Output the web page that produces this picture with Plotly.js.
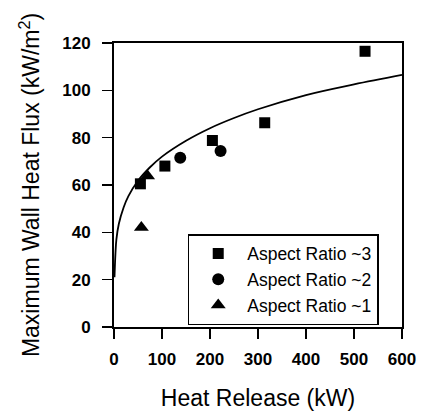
<!DOCTYPE html>
<html>
<head>
<meta charset="utf-8">
<script src="https://cdn.plot.ly/plotly-3.0.1.min.js"></script>
<style>html,body{margin:0;padding:0;background:#fff;}#chart{width:426px;height:415px;}</style>
</head>
<body>
<div id="chart"></div>
<script>
// Data
const ar3X = [55, 106, 205, 314, 523];
const ar3Y = [60.5, 68, 78.8, 86.3, 116.5];
const ar2X = [138, 222];
const ar2Y = [71.5, 74.4];
const ar1X = [70, 57];
const ar1Y = [63.8, 42];
// Fitted correlation curve
const curveX = [1, 3, 5, 10, 20, 30, 50, 75, 100, 150, 200, 250, 300, 400, 500, 600];
const curveY = [21, 31, 37, 43.5, 50.5, 55.3, 61.8, 67.5, 72, 78.7, 84, 88.3, 92, 98, 102.5, 106.5];
const legendNames = ['Aspect Ratio ~3', 'Aspect Ratio ~2', 'Aspect Ratio ~1'];
const xTicks = [0, 100, 200, 300, 400, 500, 600];
const yTicks = [0, 20, 40, 60, 80, 100, 120];

const FONT = 'Arial, "Liberation Sans", Helvetica, sans-serif';

const traces = [
  {x: curveX, y: curveY, mode: 'lines', line: {color: '#000', width: 1.8, shape: 'spline'}, showlegend: false, hoverinfo: 'skip'},
  {x: ar3X, y: ar3Y, mode: 'markers', name: legendNames[0], marker: {symbol: 'square', size: 11, color: '#000'}},
  {x: ar2X, y: ar2Y, mode: 'markers', name: legendNames[1], marker: {symbol: 'circle', size: 12, color: '#000'}},
  {x: ar1X, y: ar1Y, mode: 'markers', name: legendNames[2], marker: {symbol: 'triangle-up', size: 13, color: '#000'}}
];

const axisCommon = {
  showgrid: false, zeroline: false, showline: true, linecolor: '#000', linewidth: 2,
  mirror: true, ticks: 'outside', ticklen: 10, tickwidth: 1.5, tickcolor: '#000',
  tickfont: {family: FONT, size: 17, color: '#000', weight: 'bold'},
  automargin: false
};

const layout = {
  width: 426, height: 415,
  margin: {l: 114, r: 24, t: 43, b: 88},
  paper_bgcolor: '#fff', plot_bgcolor: '#fff',
  font: {family: FONT, color: '#000'},
  xaxis: Object.assign({}, axisCommon, {
    range: [0, 600], tickvals: xTicks, ticktext: xTicks.map(String),
    ticklabelstandoff: 6,
    title: {text: 'Heat Release (kW)', font: {family: FONT, size: 23, color: '#000'}, standoff: 21}
  }),
  yaxis: Object.assign({}, axisCommon, {
    range: [0, 120], tickvals: yTicks, ticktext: yTicks.map(String),
    ticklabelstandoff: 8,
    title: {text: 'Maximum Wall Heat Flux (kW/m<sup>2</sup>)', font: {family: FONT, size: 23, color: '#000'}, standoff: 16}
  }),
  showlegend: true,
  legend: {
    x: 0.256, y: 0.327, xanchor: 'left', yanchor: 'top',
    bgcolor: '#fff', bordercolor: '#000', borderwidth: 1.5,
    font: {family: FONT, size: 17.5, color: '#000'},
    itemwidth: 48, tracegroupgap: 0
  }
};

Plotly.newPlot('chart', traces, layout, {staticPlot: true, displayModeBar: false});
</script>
</body>
</html>
